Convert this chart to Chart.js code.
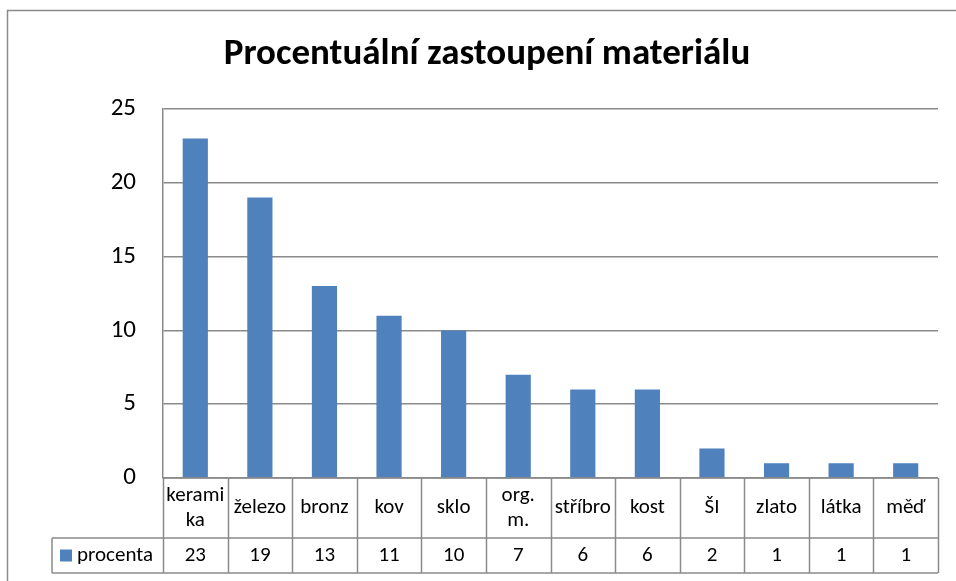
<!DOCTYPE html>
<html>
<head>
<meta charset="utf-8">
<script src="https://cdn.jsdelivr.net/npm/chart.js@4/dist/chart.umd.min.js"></script>
<style>
  html, body { margin: 0; padding: 0; background: #fff; }
  #wrap { width: 956px; height: 581px; }
</style>
</head>
<body>
<div id="wrap"><canvas id="chart" width="956" height="581"></canvas></div>
<script>
const categories = ["keramika", "železo", "bronz", "kov", "sklo", "org. m.", "stříbro", "kost", "ŠI", "zlato", "látka", "měď"];
const tickLabels = [["kerami", "ka"], ["železo"], ["bronz"], ["kov"], ["sklo"], ["org.", "m."], ["stříbro"], ["kost"], ["ŠI"], ["zlato"], ["látka"], ["měď"]];
const procenta = [23, 19, 13, 11, 10, 7, 6, 6, 2, 1, 1, 1];
const yTicks = [0, 5, 10, 15, 20, 25];
const titleText = "Procentuální zastoupení materiálu";

const FONT = "Carlito, Lato, 'Open Sans', sans-serif";
const LINE = "#8a8a8a";
const BAR = "#4F81BD";

// outer frame + title
const framePlugin = {
    id: "frame",
    beforeDraw(chart) {
        const ctx = chart.ctx;
        ctx.save();
        ctx.strokeStyle = LINE;
        ctx.lineWidth = 1.5;
        ctx.strokeRect(7.5, 10.5, 1200, 1200);
        ctx.fillStyle = "#000";
        ctx.font = "bold 37px " + FONT;
        ctx.textAlign = "center";
        ctx.textBaseline = "middle";
        ctx.fillText(titleText, 487, 55);
        ctx.restore();
    }
};

// data table under the plot, built from the scale
const tablePlugin = {
    id: "dataTable",
    afterDraw(chart) {
        const ctx = chart.ctx;
        const x = chart.scales.x;
        const area = chart.chartArea;
        const n = categories.length;
        const w = (area.right - area.left) / n;
        const top = area.bottom;
        const mid = top + 60;
        const bot = mid + 35;
        const legendLeft = 52;

        ctx.save();
        ctx.strokeStyle = LINE;
        ctx.lineWidth = 1.5;
        ctx.beginPath();
        ctx.moveTo(area.left, top); ctx.lineTo(area.right, top);
        ctx.moveTo(legendLeft, mid); ctx.lineTo(area.right, mid);
        ctx.moveTo(legendLeft, bot); ctx.lineTo(area.right, bot);
        ctx.moveTo(legendLeft, mid); ctx.lineTo(legendLeft, bot);
        for (let i = 0; i <= n; i++) {
            const px = Math.round(area.left + i * w) + 0.5;
            ctx.moveTo(px, top); ctx.lineTo(px, bot);
        }
        ctx.stroke();

        ctx.fillStyle = "#000";
        ctx.textAlign = "center";
        ctx.textBaseline = "middle";
        ctx.font = "21px " + FONT;
        tickLabels.forEach((lines, i) => {
            const cx = x.getPixelForValue(i);
            const lh = 25;
            const y0 = (top + mid) / 2 - (lines.length - 1) * lh / 2;
            lines.forEach((t, j) => ctx.fillText(t, cx, y0 + j * lh));
            ctx.fillText(String(procenta[i]), cx, (mid + bot) / 2);
        });

        ctx.fillStyle = BAR;
        ctx.fillRect(60, (mid + bot) / 2 - 6, 12, 12);
        ctx.fillStyle = "#000";
        ctx.textAlign = "left";
        ctx.fillText(chart.data.datasets[0].label, 77, (mid + bot) / 2);
        ctx.restore();
    }
};

new Chart(document.getElementById("chart"), {
    type: "bar",
    data: {
        labels: categories,
        datasets: [{
            label: "procenta",
            data: procenta,
            backgroundColor: BAR,
            borderWidth: 0,
            categoryPercentage: 1,
            barPercentage: 0.39
        }]
    },
    options: {
        responsive: false,
        animation: false,
        layout: { padding: { left: 0, right: 18, top: 109, bottom: 95 } },
        plugins: {
            legend: { display: false },
            tooltip: { enabled: false },
            title: { display: false }
        },
        scales: {
            x: {
                ticks: { display: false },
                grid: { display: false },
                border: { display: false }
            },
            y: {
                min: 0,
                max: 25,
                afterBuildTicks(scale) {
                    scale.ticks = yTicks.map(v => ({ value: v }));
                },
                afterFit(scale) {
                    scale.width = 163;
                },
                ticks: {
                    color: "#000",
                    padding: 27,
                    font: { family: FONT, size: 25 }
                },
                grid: { color: LINE, lineWidth: 1.5, drawTicks: false },
                border: { display: true, color: LINE, width: 1.5 }
            }
        }
    },
    plugins: [framePlugin, tablePlugin]
});
</script>
</body>
</html>
